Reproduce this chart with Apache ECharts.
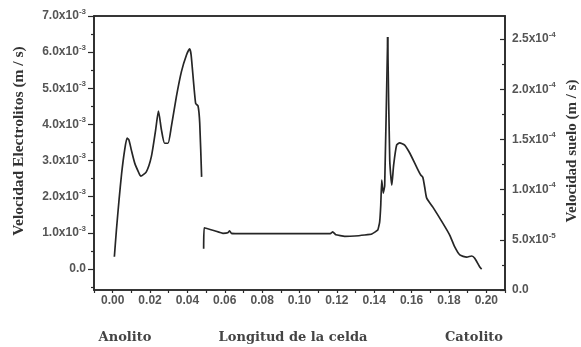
<!DOCTYPE html>
<html>
<head>
<meta charset="utf-8">
<script src="https://cdn.jsdelivr.net/npm/echarts@6/dist/echarts.min.js"></script>
<style>
html,body{margin:0;padding:0;background:#fff;}
#chart{width:581px;height:347px;}
</style>
</head>
<body>
<div id="chart"></div>
<script>
// ---- Data ----
// Anolito: velocidad electrolitos (m/s), left axis
const anolitoX = [0.0009, 0.0020, 0.0034, 0.0048, 0.0064, 0.0077, 0.0087, 0.0100, 0.0118, 0.0141, 0.0150, 0.0180, 0.0207, 0.0230, 0.0245, 0.0261, 0.0278, 0.0296, 0.0314, 0.0341, 0.0368, 0.0395, 0.0412, 0.0420, 0.0444, 0.0457, 0.0466, 0.0476];
const anolitoY = [0.34e-3, 1.08e-3, 1.91e-3, 2.65e-3, 3.29e-3, 3.62e-3, 3.57e-3, 3.29e-3, 2.93e-3, 2.65e-3, 2.57e-3, 2.69e-3, 3.11e-3, 3.85e-3, 4.37e-3, 3.85e-3, 3.48e-3, 3.48e-3, 3.94e-3, 4.77e-3, 5.46e-3, 5.92e-3, 6.09e-3, 5.92e-3, 4.58e-3, 4.51e-3, 4.03e-3, 2.55e-3];
// Suelo: velocidad suelo (m/s), right axis
const sueloX = [0.0487, 0.0490, 0.0546, 0.0590, 0.0616, 0.0626, 0.0635, 0.0700, 0.0800, 0.0900, 0.1000, 0.1100, 0.1165, 0.1178, 0.1195, 0.1242, 0.1296, 0.1349, 0.1387, 0.1419, 0.1429, 0.1435, 0.1440, 0.1448, 0.1456, 0.1472];
const sueloY = [0.41e-4, 0.62e-4, 0.59e-4, 0.565e-4, 0.57e-4, 0.59e-4, 0.565e-4, 0.562e-4, 0.562e-4, 0.561e-4, 0.562e-4, 0.562e-4, 0.562e-4, 0.58e-4, 0.55e-4, 0.535e-4, 0.538e-4, 0.548e-4, 0.558e-4, 0.598e-4, 0.677e-4, 0.847e-4, 1.096e-4, 0.966e-4, 1.036e-4, 2.52e-4];
// Catolito: velocidad electrolitos (m/s), left axis
const catolitoX = [0.1472, 0.1483, 0.1494, 0.1504, 0.1520, 0.1536, 0.1563, 0.1590, 0.1627, 0.1649, 0.1660, 0.1670, 0.1681, 0.1713, 0.1767, 0.1804, 0.1831, 0.1858, 0.1895, 0.1922, 0.1938, 0.1965, 0.1975];
const catolitoY = [6.42e-3, 3.02e-3, 2.32e-3, 2.88e-3, 3.43e-3, 3.49e-3, 3.43e-3, 3.21e-3, 2.82e-3, 2.60e-3, 2.54e-3, 2.27e-3, 1.96e-3, 1.72e-3, 1.27e-3, 0.94e-3, 0.61e-3, 0.39e-3, 0.33e-3, 0.36e-3, 0.30e-3, 0.055e-3, 0.0];

// ---- Ticks and labels ----
const xTickValues = [-0.01, 0, 0.01, 0.02, 0.03, 0.04, 0.05, 0.06, 0.07, 0.08, 0.09, 0.10, 0.11, 0.12, 0.13, 0.14, 0.15, 0.16, 0.17, 0.18, 0.19, 0.20, 0.21];
const xLabelValues = [0, 0.02, 0.04, 0.06, 0.08, 0.10, 0.12, 0.14, 0.16, 0.18, 0.20];
const xLabels = ['0.00', '0.02', '0.04', '0.06', '0.08', '0.10', '0.12', '0.14', '0.16', '0.18', '0.20'];

const leftValues = [0, 1e-3, 2e-3, 3e-3, 4e-3, 5e-3, 6e-3, 7e-3];
const leftLabels = ['0.0', '1.0x10{s|-3}', '2.0x10{s|-3}', '3.0x10{s|-3}', '4.0x10{s|-3}', '5.0x10{s|-3}', '6.0x10{s|-3}', '7.0x10{s|-3}'];
const leftMinor = [-0.5e-3, 0.5e-3, 1.5e-3, 2.5e-3, 3.5e-3, 4.5e-3, 5.5e-3, 6.5e-3];

const rightValues = [0, 0.5e-4, 1.0e-4, 1.5e-4, 2.0e-4, 2.5e-4];
const rightLabels = ['0.0', '5.0x10{s|-5}', '1.0x10{s|-4}', '1.5x10{s|-4}', '2.0x10{s|-4}', '2.5x10{s|-4}'];
const rightMinor = [0.25e-4, 0.75e-4, 1.25e-4, 1.75e-4, 2.25e-4];

const leftTitle = 'Velocidad Electrolitos (m / s)';
const rightTitle = 'Velocidad suelo (m / s)';
const bottomTexts = ['Anolito', 'Longitud de la celda', 'Catolito'];

function lookup(values, labels, v) {
  for (let i = 0; i < values.length; i++) {
    if (Math.abs(values[i] - v) < Math.abs(values[1] - values[0]) * 1e-3) return labels[i];
  }
  return '';
}
function zip(xs, ys) { return xs.map((x, i) => [x, ys[i]]); }

const axisColor = '#2a2a2a';
const sansFam = 'Liberation Sans, Arial, sans-serif';
const serifFam = 'Liberation Serif, Times New Roman, serif';
const labelFont = { color: '#555', fontWeight: 'bold', fontFamily: sansFam, fontSize: 12 };
const labelRich = {
  s: { fontSize: 8, fontWeight: 'bold', fontFamily: sansFam, color: '#555', verticalAlign: 'top', lineHeight: 8 }
};

const chart = echarts.init(document.getElementById('chart'), null, { renderer: 'canvas' });
const lineStyle = { color: '#262626', width: 1.7 };

const option = {
  animation: false,
  backgroundColor: '#fff',
  grid: { left: 94, right: 76, top: 16, bottom: 57, containLabel: false, show: true, borderColor: axisColor, borderWidth: 1.6, backgroundColor: 'rgba(0,0,0,0)' },
  xAxis: [
    {
      type: 'value', min: -0.01, max: 0.21, position: 'bottom',
      axisLine: { show: true, onZero: false, lineStyle: { color: axisColor, width: 1.6 } },
      axisTick: { show: true, length: 3, lineStyle: { color: axisColor, width: 1.2 }, customValues: xTickValues },
      axisLabel: Object.assign({ margin: 5, customValues: xLabelValues, formatter: v => lookup(xLabelValues, xLabels, v) }, labelFont),
      splitLine: { show: false }
    },
    {
      type: 'value', min: -0.01, max: 0.21, position: 'top',
      axisLine: { show: true, onZero: false, lineStyle: { color: axisColor, width: 1.6 } },
      axisTick: { show: false }, axisLabel: { show: false }, splitLine: { show: false }
    }
  ],
  yAxis: [
    {
      type: 'value', min: -0.58e-3, max: 7.0e-3, position: 'left',
      axisLine: { show: true, onZero: false, lineStyle: { color: axisColor, width: 1.6 } },
      axisTick: { show: true, length: 6, lineStyle: { color: axisColor, width: 1.2 }, customValues: leftValues },
      axisLabel: Object.assign({ margin: 8, lineHeight: 17, customValues: leftValues, formatter: v => lookup(leftValues, leftLabels, v), rich: labelRich }, labelFont),
      splitLine: { show: false }
    },
    {
      type: 'value', min: 0, max: 2.73e-4, position: 'right',
      axisLine: { show: true, onZero: false, lineStyle: { color: axisColor, width: 1.6 } },
      axisTick: { show: true, inside: true, length: 5, lineStyle: { color: axisColor, width: 1.2 }, customValues: rightValues },
      axisLabel: Object.assign({ margin: 7, lineHeight: 17, customValues: rightValues, formatter: v => lookup(rightValues, rightLabels, v), rich: labelRich }, labelFont),
      splitLine: { show: false }
    },
    {
      type: 'value', min: -0.58e-3, max: 7.0e-3, position: 'left',
      axisLine: { show: false, onZero: false },
      axisTick: { show: true, length: 3, lineStyle: { color: axisColor, width: 1.2 }, customValues: leftMinor },
      axisLabel: { show: false }, splitLine: { show: false }
    },
    {
      type: 'value', min: 0, max: 2.73e-4, position: 'right',
      axisLine: { show: false, onZero: false },
      axisTick: { show: true, inside: true, length: 3, lineStyle: { color: axisColor, width: 1.2 }, customValues: rightMinor },
      axisLabel: { show: false }, splitLine: { show: false }
    }
  ],
  series: [
    { name: 'Anolito', type: 'line', xAxisIndex: 0, yAxisIndex: 0, data: zip(anolitoX, anolitoY), showSymbol: false, smooth: 0.2, lineStyle: lineStyle },
    { name: 'Suelo', type: 'line', xAxisIndex: 0, yAxisIndex: 1, data: zip(sueloX, sueloY), showSymbol: false, smooth: 0.1, lineStyle: lineStyle },
    { name: 'Catolito', type: 'line', xAxisIndex: 0, yAxisIndex: 0, data: zip(catolitoX, catolitoY), showSymbol: false, smooth: 0.2, lineStyle: lineStyle }
  ],
  graphic: [
    { type: 'text', x: 19, y: 141, rotation: Math.PI / 2,
      style: { text: leftTitle, fontSize: 15.5, fontWeight: 'bold', fontFamily: serifFam, fill: '#333', align: 'center', verticalAlign: 'middle', textAlign: 'center', textVerticalAlign: 'middle' } },
    { type: 'text', x: 572, y: 151, rotation: Math.PI / 2,
      style: { text: rightTitle, fontSize: 15, fontWeight: 'bold', fontFamily: serifFam, fill: '#333', align: 'center', verticalAlign: 'middle', textAlign: 'center', textVerticalAlign: 'middle' } },
    { type: 'text', x: 125, y: 338,
      style: { text: bottomTexts[0], fontSize: 13, fontWeight: 'bold', fontFamily: 'DejaVu Serif, serif', fill: '#444', align: 'center', verticalAlign: 'middle', textAlign: 'center', textVerticalAlign: 'middle' } },
    { type: 'text', x: 293, y: 338,
      style: { text: bottomTexts[1], fontSize: 13, fontWeight: 'bold', fontFamily: 'DejaVu Serif, serif', fill: '#444', align: 'center', verticalAlign: 'middle', textAlign: 'center', textVerticalAlign: 'middle' } },
    { type: 'text', x: 474, y: 338,
      style: { text: bottomTexts[2], fontSize: 13, fontWeight: 'bold', fontFamily: 'DejaVu Serif, serif', fill: '#444', align: 'center', verticalAlign: 'middle', textAlign: 'center', textVerticalAlign: 'middle' } }
  ]
};
chart.setOption(option);
</script>
</body>
</html>
